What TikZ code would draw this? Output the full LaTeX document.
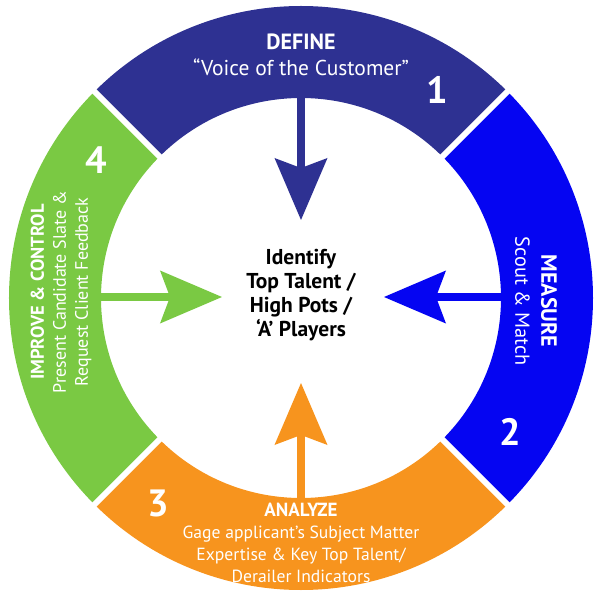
\documentclass[tikz,border=0pt]{standalone}
\usepackage{fontspec}
\setmainfont{PT Sans}
\usetikzlibrary{arrows.meta, positioning, calc}

\definecolor{defineblue}{HTML}{2E3192}
\definecolor{measureblue}{HTML}{0505F2}
\definecolor{analyzeorange}{HTML}{F7941E}
\definecolor{improvegreen}{HTML}{7AC943}

\begin{document}
\begin{tikzpicture}[
  x=1pt, y=1pt,
  every node/.style={inner sep=0pt, align=center},
  ringtext/.style={text=white, font=\fontsize{20}{26}\selectfont},
  stepnum/.style={text=white, font=\fontsize{38}{38}\selectfont\bfseries},
  hub/.style={font=\fontsize{21.5}{24}\selectfont\bfseries},
  flow/.style={line width=8pt, -{Stealth[length=62pt, width=53pt, inset=10pt, line width=0pt]}}
]
\useasboundingbox (-301,-304) rectangle (301,298);

% ring
\foreach \a/\b/\col in {45/135/defineblue, 135/225/improvegreen, 225/315/analyzeorange, 315/405/measureblue}
  \fill[\col] (\a:200) arc[start angle=\a, end angle=\b, radius=200]
    -- (\b:292) arc[start angle=\b, end angle=\a, radius=292] -- cycle;
\foreach \a in {45,135,225,315}
  \draw[white, line width=6pt] (\a:190) -- (\a:300);

% arrows into the hub
\coordinate (define-in) at (0,203);
\coordinate (define-tip) at (0,78);
\coordinate (measure-in) at (203,1);
\coordinate (measure-tip) at (83,1);
\coordinate (analyze-in) at (0,-203);
\coordinate (analyze-tip) at (0,-85);
\coordinate (improve-in) at (-203,1);
\coordinate (improve-tip) at (-79,1);
\draw[flow, defineblue] (define-in) -- (define-tip);
\draw[flow, measureblue] (measure-in) -- (measure-tip);
\draw[flow, analyzeorange] (analyze-in) -- (analyze-tip);
\draw[flow, improvegreen] (improve-in) -- (improve-tip);

% labels
\node[hub] (hub) at (0,3) {Identify\\Top Talent /\\High Pots /\\‘A’ Players};
\node[ringtext, font=\fontsize{21.5}{26}\selectfont] (define) at (0,243)
  {{\fontsize{22}{26}\selectfont\bfseries DEFINE}\\“Voice of the Customer”};
\node[ringtext, font=\fontsize{20.3}{26}\selectfont, rotate=-90] (measure) at (235,-3)
  {{\fontsize{22}{26}\selectfont\bfseries MEASURE}\\Scout \& Match};
\node[ringtext, font=\fontsize{17.6}{22}\selectfont] (analyze) at (0,-245)
  {{\fontsize{19}{22}\selectfont\bfseries ANALYZE}\\Gage applicant’s Subject Matter\\Expertise \& Key Top Talent/\\Derailer Indicators};
\node[ringtext, font=\fontsize{18}{22}\selectfont, rotate=90] (improve) at (-240,6)
  {{\fontsize{18.5}{22}\selectfont\bfseries IMPROVE \& CONTROL}\\Present Candidate Slate \&\\Request Client Feedback};

\node[stepnum] (one) at (136,208) {1};
\node[stepnum] (two) at (209,-134) {2};
\node[stepnum] (three) at (-143,-205) {3};
\node[stepnum] (four) at (-205,138) {4};
\end{tikzpicture}
\end{document}
